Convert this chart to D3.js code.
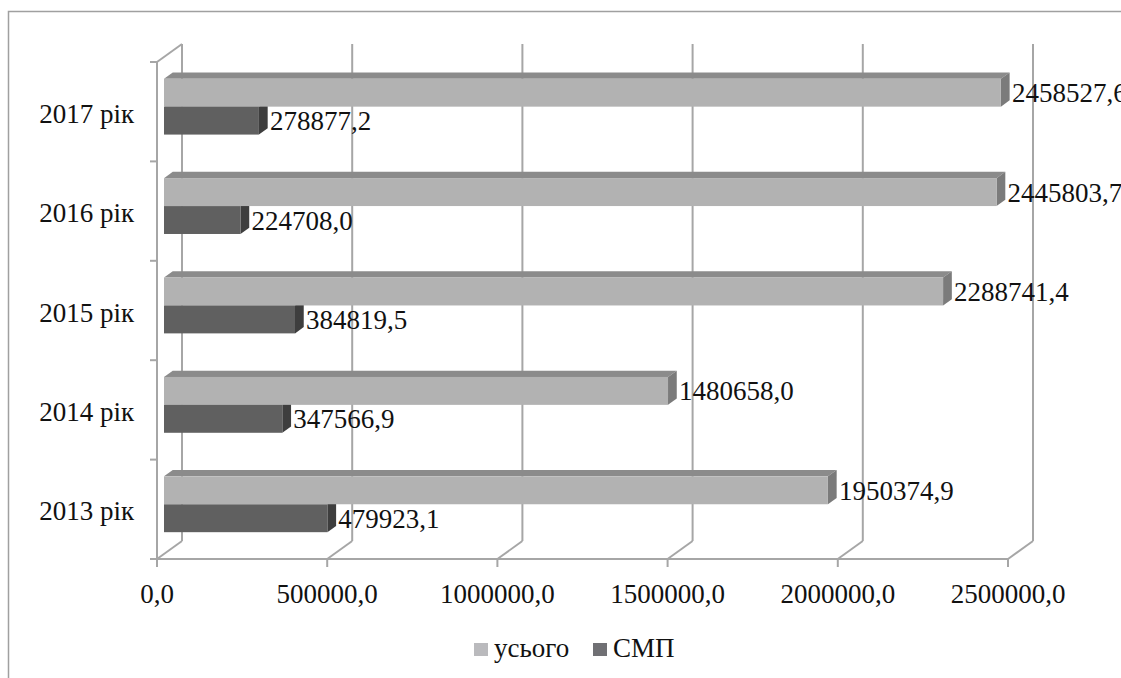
<!DOCTYPE html>
<html>
<head>
<meta charset="utf-8">
<script src="https://cdn.jsdelivr.net/npm/d3@7"></script>
<style>
  body { margin: 0; background: #fff; }
  svg { display: block; }
</style>
</head>
<body>
<svg id="chart" width="1121" height="678" font-family="'Liberation Serif', 'DejaVu Serif', serif"></svg>
<script>
// data
const categories = ["2013 рік", "2014 рік", "2015 рік", "2016 рік", "2017 рік"];
const totalValues = [1950374.9, 1480658.0, 2288741.4, 2445803.7, 2458527.6];
const smpValues = [479923.1, 347566.9, 384819.5, 224708.0, 278877.2];
const tickValues = [0, 500000, 1000000, 1500000, 2000000, 2500000];
const seriesNames = ["усього", "СМП"];

const fmt = v => d3.format(".1f")(v).replace(".", ",");

const svg = d3.select("#chart");

// oblique depth of the plot box
const depthX = 25, depthY = -18;
const barFront = 0.28, barBack = 0.63;

const x = d3.scaleLinear().domain([0, 2500000]).range([157, 1008]);
const y = d3.scaleBand().domain(categories.slice().reverse()).range([62, 559]);
const ySeries = d3.scaleBand().domain(["total", "smp"])
  .range([0, y.bandwidth()]).paddingInner(0).paddingOuter(0.78);

const gridColor = "#a6a6a6";
const textColor = "#111";

// outer frame (cut by the picture edges)
svg.append("rect")
  .attr("x", 8.5).attr("y", 11.5)
  .attr("width", 1200).attr("height", 800)
  .attr("fill", "none").attr("stroke", "#a0a0a0").attr("stroke-width", 1.5);

/////////////////////////////////////////////////////////
// WALLS

const grid = svg.append("g").attr("class", "grid")
  .attr("stroke", gridColor).attr("stroke-width", 2).attr("fill", "none");

const yTop = y.range()[0], yBottom = y.range()[1];

// back wall verticals
grid.selectAll("line.back").data(tickValues).enter().append("line")
  .attr("class", "back")
  .attr("x1", d => x(d) + depthX).attr("x2", d => x(d) + depthX)
  .attr("y1", yTop + depthY).attr("y2", yBottom + depthY);

// floor diagonals
grid.selectAll("line.floor").data(tickValues).enter().append("line")
  .attr("class", "floor")
  .attr("x1", d => x(d)).attr("y1", yBottom)
  .attr("x2", d => x(d) + depthX).attr("y2", yBottom + depthY);

// left wall top edge
grid.append("line")
  .attr("x1", x(0)).attr("y1", yTop)
  .attr("x2", x(0) + depthX).attr("y2", yTop + depthY);

/////////////////////////////////////////////////////////
// BARS

const rows = categories.map((c, i) => ({ cat: c, total: totalValues[i], smp: smpValues[i] }));

const colors = {
  smp: { front: "#606060", top: "#555555", side: "#3e3e3e" },
  total: { front: "#b2b2b2", top: "#8b8b8b", side: "#7b7b7b" }
};

const dx = (barBack - barFront) * depthX;
const dy = (barBack - barFront) * depthY;

const drawBar = (g, key, value, cat) => {
  const x0 = x(0) + barFront * depthX;
  const x1 = x(value) + barFront * depthX;
  const yt = y(cat) + barFront * depthY + ySeries(key);
  const yb = yt + ySeries.bandwidth();
  const c = colors[key];

  g.append("polygon")
    .attr("points", [[x0, yt], [x1, yt], [x1 + dx, yt + dy], [x0 + dx, yt + dy]].join(" "))
    .attr("fill", c.top);
  g.append("polygon")
    .attr("points", [[x1, yt], [x1 + dx, yt + dy], [x1 + dx, yb + dy], [x1, yb]].join(" "))
    .attr("fill", c.side);
  g.append("rect")
    .attr("x", x0).attr("y", yt)
    .attr("width", x1 - x0).attr("height", yb - yt)
    .attr("fill", c.front);
};

const bars = svg.append("g").attr("class", "bars");
rows.forEach(d => {
  const g = bars.append("g").attr("class", "category");
  drawBar(g, "smp", d.smp, d.cat);
  drawBar(g, "total", d.total, d.cat);
});

// value labels
const labels = svg.append("g").attr("class", "values")
  .attr("font-size", 27).attr("fill", textColor);
rows.forEach(d => {
  ["total", "smp"].forEach(key => {
    const yt = y(d.cat) + barFront * depthY + ySeries(key);
    labels.append("text")
      .attr("x", x(d[key]) + barFront * depthX + 11)
      .attr("y", yt + ySeries.bandwidth() / 2 + 9.5)
      .text(fmt(d[key]));
  });
});

/////////////////////////////////////////////////////////
// AXES

const axes = svg.append("g").attr("stroke", gridColor).attr("stroke-width", 2);

axes.append("line")
  .attr("x1", x(0)).attr("x2", x(0))
  .attr("y1", yTop).attr("y2", yBottom);
axes.append("line")
  .attr("x1", x(0)).attr("x2", x(2500000))
  .attr("y1", yBottom).attr("y2", yBottom);

const yTicks = categories.map(c => y(c)).concat([yBottom]);
axes.selectAll("line.ytick").data(yTicks).enter().append("line")
  .attr("x1", x(0) - 7).attr("x2", x(0))
  .attr("y1", d => d).attr("y2", d => d);

axes.selectAll("line.xtick").data(tickValues).enter().append("line")
  .attr("x1", d => x(d)).attr("x2", d => x(d))
  .attr("y1", yBottom).attr("y2", yBottom + 8);

svg.append("g").attr("font-size", 27).attr("fill", textColor)
  .selectAll("text").data(tickValues).enter().append("text")
  .attr("x", d => x(d)).attr("y", 603)
  .attr("text-anchor", "middle")
  .text(d => fmt(d));

svg.append("g").attr("font-size", 27).attr("fill", textColor)
  .selectAll("text").data(categories).enter().append("text")
  .attr("x", 134)
  .attr("y", d => y(d) + y.bandwidth() / 2 + 11)
  .attr("text-anchor", "end")
  .text(d => d);

/////////////////////////////////////////////////////////
// LEGEND

const legendColors = ["#bababd", "#707074"];
const legendX = [474, 593];
const legend = svg.append("g").attr("font-size", 27).attr("fill", textColor);
seriesNames.forEach((name, i) => {
  legend.append("rect")
    .attr("x", legendX[i]).attr("y", 643)
    .attr("width", 14).attr("height", 13)
    .attr("fill", legendColors[i]);
  legend.append("text")
    .attr("x", legendX[i] + 20).attr("y", 657)
    .text(name);
});
</script>
</body>
</html>
